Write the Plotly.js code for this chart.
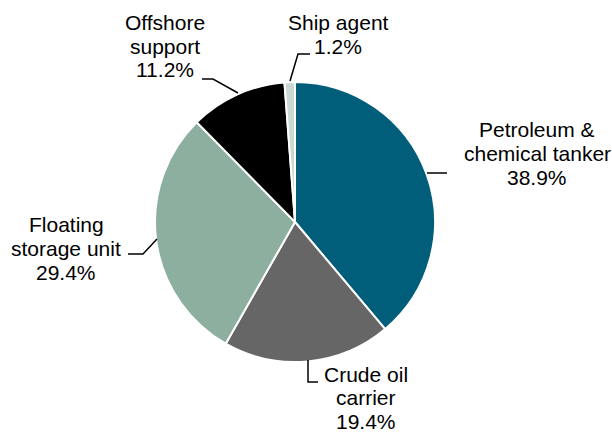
<!DOCTYPE html>
<html><head><meta charset="utf-8">
<script src="https://cdn.plot.ly/plotly-3.0.1.min.js"></script>
<style>html,body{margin:0;padding:0;background:#fff}</style>
</head><body>
<div id="chart" style="width:612px;height:432px"></div>
<script>
const categories = ["Petroleum & chemical tanker", "Crude oil carrier", "Floating storage unit", "Offshore support", "Ship agent"];
const values = [38.9, 19.4, 29.4, 11.2, 1.2];
const labelLines = [["Petroleum &", "chemical tanker"], ["Crude oil", "carrier"], ["Floating", "storage unit"], ["Offshore", "support"], ["Ship agent"]];
const colors = ["#005e7a", "#666666", "#8daf9f", "#000000", "#c9d9d4"];

const W = 612, H = 432;
const px = x => x / W, py = y => 1 - y / H;
const cx = 295, cy = 222, r = 140;
const LINE = 24;

// label block positions: center x, y of first line (pixels)
const labelPos = [[537, 129], [366, 374], [66, 224], [165, 22], [338, 23]];
const leaders = [
  [[427, 173], [447, 173]],
  [[308, 360], [308, 382], [318, 382]],
  [[157, 239], [143, 254], [128, 254]],
  [[238, 93], [213, 79], [202, 79]],
  [[290, 81], [298, 54], [310, 54]]
];

const annotations = [];
categories.forEach((c, i) => {
  const lines = labelLines[i].concat([values[i].toFixed(1) + '%']);
  lines.forEach((t, j) => annotations.push({
    x: px(labelPos[i][0]), y: py(labelPos[i][1] + j * (i === 1 ? 23.5 : LINE)), xref: 'paper', yref: 'paper',
    text: t, showarrow: false, xanchor: 'center', yanchor: 'middle', align: 'center',
    font: {family: 'Liberation Sans, Arial, sans-serif', size: 21, color: '#000'}
  }));
});

const shapes = leaders.map(pts => ({
  type: 'path', xref: 'paper', yref: 'paper',
  path: pts.map((p, j) => (j ? 'L' : 'M') + px(p[0]) + ',' + py(p[1])).join(' '),
  line: {color: '#000', width: 1.5}
}));

Plotly.newPlot('chart', [{
  type: 'pie', labels: categories, values: values, sort: false,
  direction: 'clockwise', rotation: 0,
  marker: {colors: colors, line: {color: '#fff', width: 2}},
  textinfo: 'none', hoverinfo: 'label+percent',
  domain: {x: [px(cx - r), px(cx + r)], y: [py(cy + r), py(cy - r)]}
}], {
  width: W, height: H, margin: {l: 0, r: 0, t: 0, b: 0},
  showlegend: false, paper_bgcolor: '#fff',
  annotations: annotations, shapes: shapes
}, {displayModeBar: false, staticPlot: true});
</script>
</body></html>
